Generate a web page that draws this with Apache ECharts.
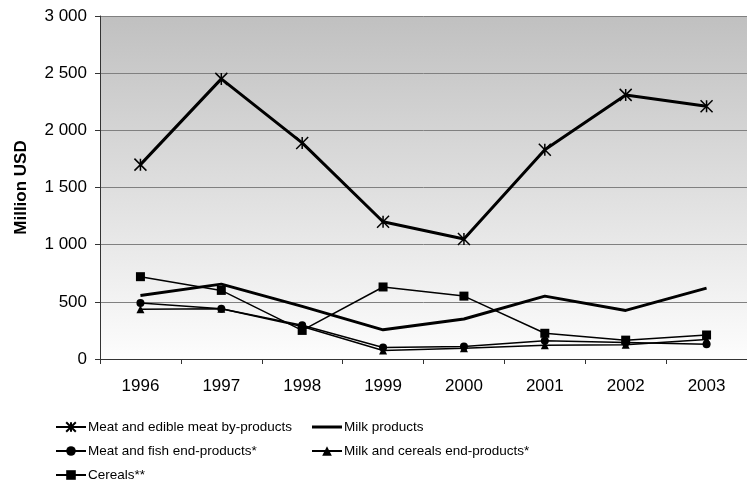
<!DOCTYPE html>
<html>
<head>
<meta charset="utf-8">
<script src="https://cdn.jsdelivr.net/npm/echarts@6/dist/echarts.min.js"></script>
<style>
  html, body { margin: 0; padding: 0; background: #fff; }
  #chart { width: 747px; height: 488px; }
</style>
</head>
<body>
<div id="chart"></div>
<script>
// Years on the category axis
const years = ['1996', '1997', '1998', '1999', '2000', '2001', '2002', '2003'];

// Export values, million USD
const meatEdible = [1700, 2450, 1890, 1200, 1050, 1830, 2310, 2210];
const milkProducts = [555, 655, 460, 255, 350, 550, 425, 620];
const meatFishEnd = [490, 440, 295, 100, 110, 160, 145, 130];
const milkCerealsEnd = [435, 440, 285, 75, 95, 120, 125, 170];
const cereals = [720, 600, 250, 630, 550, 225, 165, 210];

// Y axis ticks
const yTicks = [0, 500, 1000, 1500, 2000, 2500, 3000];

const FONT = '"Liberation Sans", Arial, sans-serif';
const starPath = 'path://M0,0L10,10M10,0L0,10M5,0L5,10';
const barPath = 'path://M0,0L30,0L30,3L0,3Z';

function fmt(v) {
  return String(v).replace(/\B(?=(\d{3})+(?!\d))/g, ' ');
}

const chart = echarts.init(document.getElementById('chart'), null, { renderer: 'canvas' });

const legendText = { fontFamily: FONT, fontSize: 13.5, color: '#000', padding: [0, 0, 0, -3] };

chart.setOption({
  animation: false,
  grid: {
    left: 100, right: 0, top: 16, bottom: 129,
    show: true,
    borderWidth: 0,
    backgroundColor: new echarts.graphic.LinearGradient(0, 0, 0, 1, [
      { offset: 0, color: '#c0c0c0' },
      { offset: 1, color: '#fdfdfd' }
    ])
  },
  legend: [
    {
      left: 50, top: 415, orient: 'vertical', itemGap: 10,
      itemWidth: 30, itemHeight: 12,
      textStyle: legendText,
      data: ['Meat and edible meat by-products', 'Meat and fish end-products*', 'Cereals**']
    },
    {
      left: 306, top: 415, orient: 'vertical', itemGap: 10,
      itemWidth: 30, itemHeight: 12,
      textStyle: legendText,
      data: [{ name: 'Milk products', icon: barPath }, 'Milk and cereals end-products*']
    }
  ],
  xAxis: {
    type: 'category',
    data: years,
    boundaryGap: true,
    axisLine: { lineStyle: { color: '#333', width: 1 } },
    axisTick: { show: true, length: 5, lineStyle: { color: '#333' } },
    axisLabel: { fontFamily: FONT, fontSize: 17, color: '#000', margin: 19 },
    splitLine: { show: false }
  },
  yAxis: {
    type: 'value',
    min: yTicks[0], max: yTicks[yTicks.length - 1], interval: 500,
    name: 'Million USD',
    nameLocation: 'middle',
    nameGap: 70,
    nameTextStyle: { fontFamily: FONT, fontSize: 17, fontWeight: 'bold', color: '#000' },
    axisLine: { show: true, lineStyle: { color: '#333', width: 1 } },
    axisTick: { show: true, length: 5, lineStyle: { color: '#333' } },
    axisLabel: { fontFamily: FONT, fontSize: 17, color: '#000', margin: 13, formatter: fmt },
    splitLine: { show: true, lineStyle: { color: '#808080', width: 1 } }
  },
  series: [
    {
      name: 'Meat and edible meat by-products',
      type: 'line',
      data: meatEdible,
      symbol: starPath,
      symbolSize: 12,
      lineStyle: { color: '#000', width: 3 },
      itemStyle: { color: 'rgba(0,0,0,0)', borderColor: '#000', borderWidth: 1.5 },
      z: 5
    },
    {
      name: 'Milk products',
      type: 'line',
      data: milkProducts,
      symbol: 'none',
      lineStyle: { color: '#000', width: 3 },
      itemStyle: { color: '#000' }
    },
    {
      name: 'Meat and fish end-products*',
      type: 'line',
      data: meatFishEnd,
      symbol: 'circle',
      symbolSize: 8,
      lineStyle: { color: '#000', width: 1.5 },
      itemStyle: { color: '#000' }
    },
    {
      name: 'Milk and cereals end-products*',
      type: 'line',
      data: milkCerealsEnd,
      symbol: 'triangle',
      symbolSize: 8,
      lineStyle: { color: '#000', width: 1.5 },
      itemStyle: { color: '#000' }
    },
    {
      name: 'Cereals**',
      type: 'line',
      data: cereals,
      symbol: 'rect',
      symbolSize: 9,
      lineStyle: { color: '#000', width: 1.5 },
      itemStyle: { color: '#000' }
    }
  ]
});
</script>
</body>
</html>
